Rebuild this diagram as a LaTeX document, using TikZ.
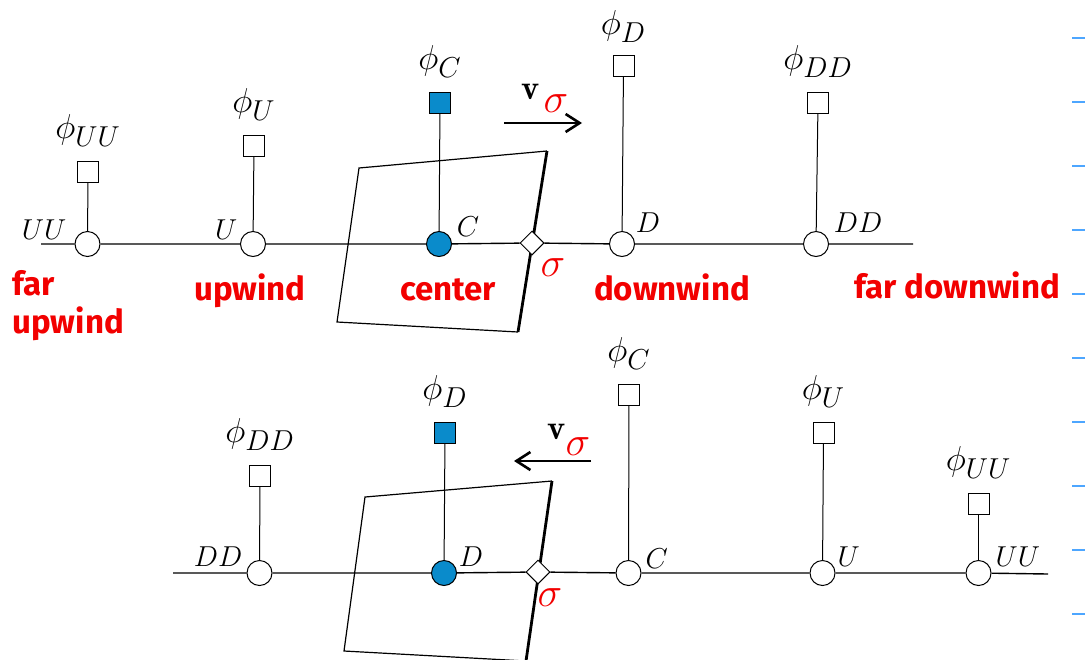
\documentclass[tikz,border=0pt]{standalone}
\usepackage{fontspec}
\usetikzlibrary{arrows.meta,positioning,shapes.geometric}
\newfontfamily\handfont{Fira Sans}
\definecolor{CellBlue}{HTML}{0A8BCB}
\definecolor{Ink}{HTML}{F20000}
\definecolor{Rule}{HTML}{4DA6FF}

\begin{document}
\begin{tikzpicture}[x=0.5pt,y=-0.5pt,
    point/.style={circle,draw,fill=white,minimum size=12.5pt,inner sep=0pt,line width=0.5pt},
    upoint/.style={point,fill=CellBlue},
    value/.style={rectangle,draw,fill=white,minimum size=10.5pt,inner sep=0pt,line width=0.5pt},
    uvalue/.style={value,fill=CellBlue},
    face/.style={diamond,draw,fill=white,minimum size=12pt,inner sep=0pt,line width=0.5pt},
    phi/.style={font=\fontsize{19}{22}\selectfont,inner sep=1pt},
    tag/.style={font=\Large,inner sep=0pt},
    note/.style={text=Ink,font=\handfont\bfseries\fontsize{16.5}{19}\selectfont,align=left,inner sep=0pt},
    sig/.style={text=Ink,font=\huge,inner sep=0pt},
    stem/.style={line width=0.5pt},
    axis/.style={line width=0.7pt},
    cellside/.style={line width=0.6pt,line join=miter},
    vel/.style={line width=1.3pt,-{Straight Barb[length=7pt,width=9pt]}},
    tick/.style={draw=Rule,line width=0.7pt}
  ]
    \useasboundingbox (0,0) rectangle (1085,659);

    % control volume cells
    \draw[cellside] (547,151) -- (359,168) -- (337,322) -- (518,332);
    \draw[line width=1.4pt] (547,151) -- (518,332);
    \draw[cellside] (552,481) -- (365,497) -- (344,651) -- (526,661);
    \draw[line width=1.4pt] (552,481) -- (526,661);

    % top row: flow to the right
    \node[point] (uu) at (87.5,244) {};
    \node[point] (u) at (253,244) {};
    \node[upoint] (c) at (439,244) {};
    \node[face] (f) at (532,243) {};
    \node[point] (d) at (622,244) {};
    \node[point] (dd) at (816,244) {};
    \node[value] (vuu) at (88,172) {};
    \node[value] (vu) at (254,146) {};
    \node[uvalue] (vc) at (440,103) {};
    \node[value] (vd) at (623.5,66) {};
    \node[value] (vdd) at (818,103) {};
    \node[phi,above=6pt of vuu] (puu) {$\phi_{UU}$};
    \node[phi,above=6pt of vu] (pu) {$\phi_{U}$};
    \node[phi,above=6pt of vc] (pc) {$\phi_{C}$};
    \node[phi,above=5pt of vd] (pd) {$\phi_{D}$};
    \node[phi,above=6pt of vdd] (pdd) {$\phi_{DD}$};
    \node[tag,above left=-2.4pt and 5.8pt of uu] (luu) {$UU$};
    \node[tag,above left=-2.4pt and 3.1pt of u] (lu) {$U$};
    \node[tag,above right=-0.9pt and 4.1pt of c] (lc) {$C$};
    \node[tag,above right=1pt and 2.1pt of d] (ld) {$D$};
    \node[tag,above right=1pt and 4.1pt of dd] (ldd) {$DD$};
    \coordinate (tl) at (41,244);
    \coordinate (tr) at (913,244);
    \draw[axis] (tl) -- (uu) -- (u) -- (c) -- (f) -- (d) -- (dd) -- (tr);
    \foreach \n in {uu,u,c,d,dd}
      \draw[stem] (\n) -- (v\n);
    \coordinate (ta) at (504,123);
    \coordinate (tb) at (582,123);
    \draw[vel] (ta) -- (tb);
    \node[font=\LARGE,inner sep=0pt] (tv) at (531,92) {$\mathbf{v}$};
    \node[sig] (tsv) at (556,104) {$\sigma$};
    \node[sig] (tsf) at (553,268) {$\sigma$};

    % bottom row: flow to the left
    \node[point] (bdd) at (259.5,573) {};
    \node[upoint] (bd) at (444,573) {};
    \node[face] (bf) at (538,572) {};
    \node[point] (bc) at (628.5,573) {};
    \node[point] (bu) at (822.5,573) {};
    \node[point] (buu) at (978.5,573) {};
    \node[value] (vbdd) at (260,476) {};
    \node[uvalue] (vbd) at (445,432.5) {};
    \node[value] (vbc) at (629,395) {};
    \node[value] (vbu) at (823.5,432.5) {};
    \node[value] (vbuu) at (978.5,504) {};
    \node[phi,above=6pt of vbdd] (pbdd) {$\phi_{DD}$};
    \node[phi,above=6pt of vbd] (pbd) {$\phi_{D}$};
    \node[phi,above=6pt of vbc] (pbc) {$\phi_{C}$};
    \node[phi,above=6pt of vbu] (pbu) {$\phi_{U}$};
    \node[phi,above=6pt of vbuu] (pbuu) {$\phi_{UU}$};
    \node[tag,above left=-1.4pt and 3.8pt of bdd] (lbdd) {$DD$};
    \node[tag,above right=-1.4pt and 2.6pt of bd] (lbd) {$D$};
    \node[tag,above right=-2.4pt and 3.8pt of bc] (lbc) {$C$};
    \node[tag,above right=-1.4pt and 2.8pt of bu] (lbu) {$U$};
    \node[tag,above right=-1.4pt and 3.8pt of buu] (lbuu) {$UU$};
    \coordinate (bl) at (173,573);
    \coordinate (br) at (1048,574);
    \draw[axis] (bl) -- (bdd) -- (bd) -- (bf) -- (bc) -- (bu) -- (buu) -- (br);
    \foreach \n in {bdd,bd,bc,bu,buu}
      \draw[stem] (\n) -- (v\n);
    \coordinate (ba) at (591,461);
    \coordinate (bb) at (514,461);
    \draw[vel] (ba) -- (bb);
    \node[font=\LARGE,inner sep=0pt] (bv) at (557,432) {$\mathbf{v}$};
    \node[sig] (bsv) at (578,447) {$\sigma$};
    \node[sig] (bsf) at (550,598) {$\sigma$};

    % handwritten notes
    \node[note,anchor=north west] (nfu) at (12,270) {far\\upwind};
    \node[note] (nu) at (250,291) {upwind};
    \node[note] (nc) at (448,290) {center};
    \node[note] (nd) at (672,287) {downwind};
    \node[note] (nfd) at (957,285) {far downwind};

    % page rules
    \foreach \k in {0,...,9}
      \draw[tick] (1072,{38+64*\k}) -- (1085,{38+64*\k});
  \end{tikzpicture}
\end{document}
